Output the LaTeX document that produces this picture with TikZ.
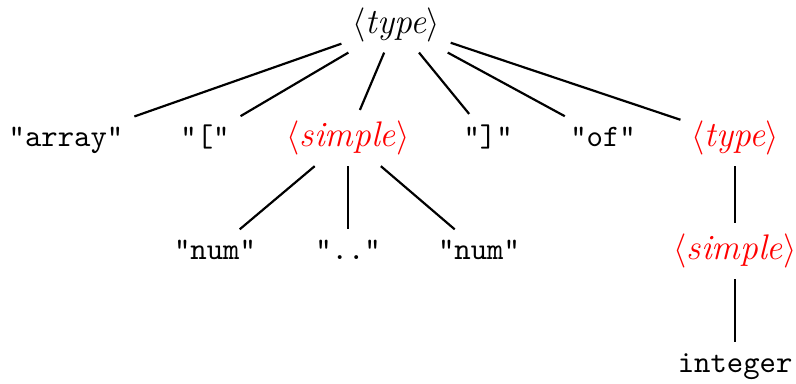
\documentclass[tikz,border=0pt]{standalone}
\usepackage{tikz}
\usetikzlibrary{positioning}

\begin{document}
\begin{tikzpicture}[
			nonterm/.style={font=\fontsize{11.4}{13}\selectfont},
			rednonterm/.style={nonterm, text=red},
			term/.style={font=\ttfamily},
			edge/.style={draw, line width=0.7pt}
		]

		\useasboundingbox (-4.463,0.372) rectangle (4.507,-3.948);

		\node[nonterm, anchor=base] (root) at (0,0) {$\langle$\textit{type}$\rangle$};

		\node[term, below left=1.28cm and 3.719cm of root.base, anchor=base] (arr) {"array"};
		\node[term, below left=1.28cm and 2.153cm of root.base, anchor=base] (lbr) {"["};
		\node[rednonterm, below left=1.28cm and 0.541cm of root.base, anchor=base] (simp) {$\langle$\textit{simple}$\rangle$};
		\node[term, below right=1.28cm and 1.037cm of root.base, anchor=base] (rbr) {"]"};
		\node[term, below right=1.28cm and 2.333cm of root.base, anchor=base] (kwof) {"of"};
		\node[rednonterm, below right=1.28cm and 3.821cm of root.base, anchor=base] (type2) {$\langle$\textit{type}$\rangle$};

		\node[term, below left=1.275cm and 1.499cm of simp.base, anchor=base] (num1) {"num"};
		\node[term, below=1.275cm of simp.base, anchor=base] (dots) {".."};
		\node[term, below right=1.275cm and 1.476cm of simp.base, anchor=base] (num2) {"num"};

		\node[rednonterm, below=1.275cm of type2.base, anchor=base] (simp2) {$\langle$\textit{simple}$\rangle$};
		\node[term, below=1.265cm of simp2.base, anchor=base] (int) {integer};

		\draw[edge] (root) -- (arr);
		\draw[edge] (root) -- (lbr);
		\draw[edge] (root) -- (simp);
		\draw[edge] (root) -- (rbr);
		\draw[edge] (root) -- (kwof);
		\draw[edge] (root) -- (type2);
		\draw[edge] (simp) -- (num1);
		\draw[edge] (simp) -- (dots);
		\draw[edge] (simp) -- (num2);
		\draw[edge] (type2) -- (simp2);
		\draw[edge] (simp2) -- (int);
	\end{tikzpicture}
\end{document}
